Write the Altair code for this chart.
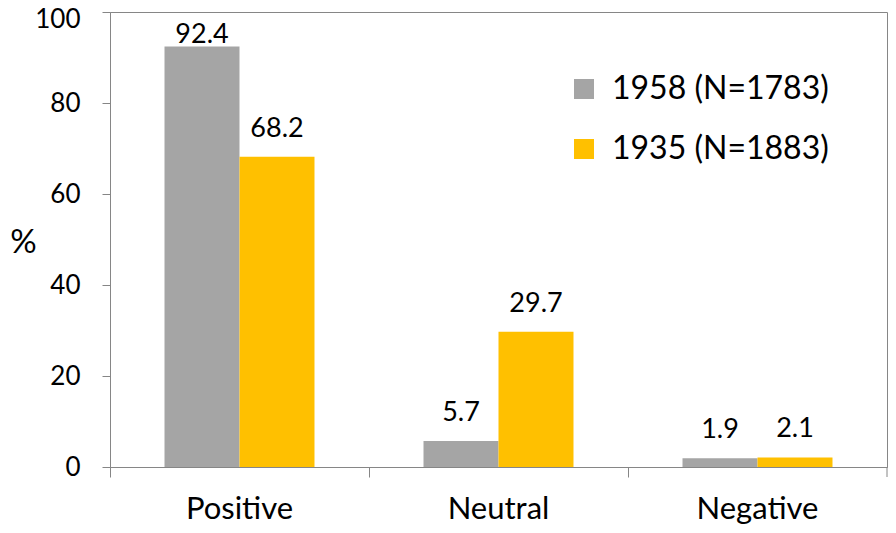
import altair as alt
import pandas as pd

categories = ["Positive", "Neutral", "Negative"]
series = ["1958 (N=1783)", "1935 (N=1883)"]
values_1958 = [92.4, 5.7, 1.9]
values_1935 = [68.2, 29.7, 2.1]
colors = ["#A5A5A5", "#FFC000"]

rows = []
for i, c in enumerate(categories):
    rows.append({"category": c, "series": series[0], "value": values_1958[i]})
    rows.append({"category": c, "series": series[1], "value": values_1935[i]})
df = pd.DataFrame(rows)

FONT = "Lato"
W, H = 777, 455
AXIS_COLOR = "#868686"

x = alt.X("category:N", sort=categories,
          scale=alt.Scale(paddingInner=0, paddingOuter=0),
          axis=alt.Axis(title=None, labelAngle=0, labelFontSize=31, labelFont=FONT,
                        labelColor="#000000", bandPosition=0, tickSize=10,
                        labelPadding=17, domainColor=AXIS_COLOR, tickColor=AXIS_COLOR,
                        labelBaseline="top"))
xo = alt.XOffset("series:N", sort=series, scale=alt.Scale(paddingOuter=0.727, paddingInner=0))
y = alt.Y("value:Q", scale=alt.Scale(domain=[0, 100], nice=False),
          axis=alt.Axis(title="%", titleAngle=0, titleX=-87, titleY=230, titleFontSize=33,
                        titleFont=FONT, titleFontWeight="normal", titleColor="#000000",
                        titleAlign="center", titleBaseline="middle",
                        values=[0, 20, 40, 60, 80, 100], labelFontSize=26, labelFont=FONT,
                        labelColor="#000000", tickSize=8, labelPadding=22, grid=False,
                        labelOffset={"condition": {"test": "datum.value === 100", "value": 7},
                                     "value": 0},
                        domainColor=AXIS_COLOR, tickColor=AXIS_COLOR))

color = alt.Color("series:N", sort=series,
                  scale=alt.Scale(domain=series, range=colors),
                  legend=alt.Legend(title=None, orient="none", legendX=458, legendY=61,
                                    symbolType="square", symbolSize=400, symbolStrokeWidth=0,
                                    labelFontSize=32, labelFont=FONT, labelColor="#000000",
                                    labelOffset=12, rowPadding=28, labelLimit=400))

base = alt.Chart(df)

bars = base.mark_bar(size=75).encode(x=x, xOffset=xo, y=y, color=color)

text_common = dict(fontSize=27, font=FONT, color="#000000", baseline="alphabetic", align="center")
labels_far = base.transform_filter(alt.datum.value < 85).mark_text(dy=-20, **text_common).encode(
    x=x, xOffset=xo, y=y, text=alt.Text("value:Q", format=".1f"))
labels_near = base.transform_filter(alt.datum.value >= 85).mark_text(dy=-4, **text_common).encode(
    x=x, xOffset=xo, y=y, text=alt.Text("value:Q", format=".1f"))

end_tick = alt.Chart(pd.DataFrame({"a": [0]})).mark_rule(color=AXIS_COLOR, strokeWidth=1).encode(
    x=alt.value(W), y=alt.value(H), y2=alt.value(H + 10))

chart = alt.layer(bars, labels_far, labels_near, end_tick).properties(
    width=W, height=H,
    autosize=alt.AutoSizeParams(type="none"),
    padding={"left": 102, "top": 4, "right": 1, "bottom": 58},
    background="white",
).configure_view(stroke=AXIS_COLOR, strokeWidth=1)

chart.save("out.html", embed_options={"renderer": "svg", "actions": False})
